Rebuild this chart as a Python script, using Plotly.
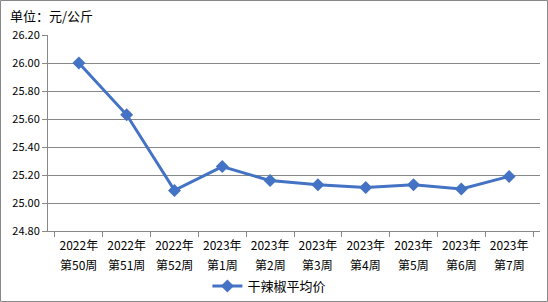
import plotly.graph_objects as go

years = ["2022年", "2022年", "2022年", "2023年", "2023年", "2023年", "2023年", "2023年", "2023年", "2023年"]
weeks = ["第50周", "第51周", "第52周", "第1周", "第2周", "第3周", "第4周", "第5周", "第6周", "第7周"]
prices = [26.00, 25.63, 25.09, 25.26, 25.16, 25.13, 25.11, 25.13, 25.10, 25.19]
series_name = "干辣椒平均价"
y_ticks = [24.80, 25.00, 25.20, 25.40, 25.60, 25.80, 26.00, 26.20]

categories = [f"{y} {w}" for y, w in zip(years, weeks)]

W, H = 548, 302
L, R, T, B = 48, 8, 35, 71
pw, ph = W - L - R, H - T - B

fig = go.Figure()
fig.add_trace(go.Scatter(
    x=categories, y=prices, mode="lines+markers", name=series_name,
    line=dict(color="#4472C4", width=3),
    marker=dict(symbol="diamond", size=10, color="#4472C4"),
))

font = "Noto Sans CJK SC, DejaVu Sans, sans-serif"
annotations = [dict(text="单位：元/公斤", xref="paper", yref="paper",
                    x=-(L - 8) / pw, y=1 + (T - 15) / ph, xanchor="left", yanchor="middle",
                    showarrow=False, font=dict(size=13))]
for c, w in zip(categories, weeks):
    annotations.append(dict(text=w, xref="x", yref="paper", x=c, y=0, yshift=-33,
                            xanchor="center", yanchor="middle", showarrow=False,
                            font=dict(size=12)))

fig.update_layout(
    width=W, height=H,
    margin=dict(l=L, r=R, t=T, b=B, autoexpand=False),
    paper_bgcolor="white", plot_bgcolor="white",
    font=dict(family=font, size=11, color="#000000"),
    showlegend=True,
    legend=dict(orientation="h", x=0.45, xanchor="center", yref="container",
                y=16 / H, yanchor="middle",
                font=dict(size=13), bgcolor="rgba(0,0,0,0)"),
    xaxis=dict(type="category", showgrid=False, showline=True, linecolor="#888888",
               linewidth=1, ticks="outside", ticklen=5, tickcolor="#888888",
               tickson="boundaries", tickvals=categories, ticktext=years,
               ticklabelstandoff=4, tickfont=dict(size=12)),
    yaxis=dict(range=[24.80, 26.20], tickvals=y_ticks,
               ticktext=[f"{v:.2f}" for v in y_ticks],
               showgrid=True, gridcolor="#888888", gridwidth=1,
               showline=True, linecolor="#888888", linewidth=1,
               ticks="outside", ticklen=5, tickcolor="#888888",
               zeroline=False, tickfont=dict(size=11)),
    annotations=annotations,
    shapes=[dict(type="rect", xref="paper", yref="paper",
                 x0=-(L - 0.5) / pw, x1=1 + (R - 0.5) / pw,
                 y0=-(B - 0.5) / ph, y1=1 + (T - 0.5) / ph,
                 line=dict(color="#888888", width=1), layer="below")],
)
fig.write_html("out.html")
